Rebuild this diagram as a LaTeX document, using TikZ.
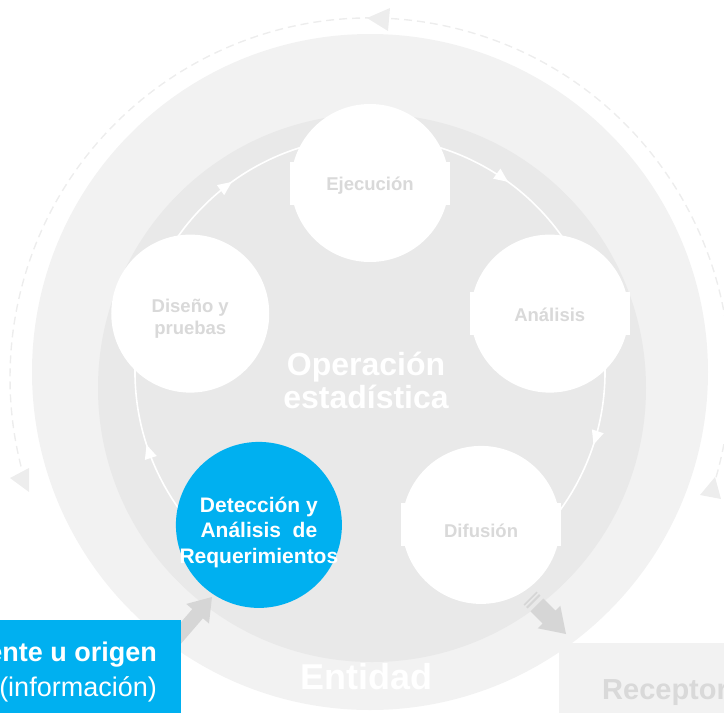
\documentclass[tikz,border=0pt]{standalone}
\usepackage{fontspec}
\setmainfont{Liberation Sans}
\usetikzlibrary{arrows.meta, calc, decorations.markings}
\definecolor{anillo}{HTML}{F2F2F2}
\definecolor{disco}{HTML}{E9E9E9}
\definecolor{azulfuente}{HTML}{00B0F0}
\definecolor{textogris}{HTML}{D9D9D9}
\definecolor{flechagris}{HTML}{D6D6D6}
\definecolor{trazogris}{HTML}{EDEDED}

\tikzset{
  etapa/.style={circle, fill=white, minimum size=158pt, inner sep=0pt},
  textoetapa/.style={inner sep=0pt, align=center, text=textogris,
    font=\bfseries\fontsize{18.5}{21.5}\selectfont},
  ciclo/.style={white, line width=1.6pt, postaction={decorate},
    decoration={markings, mark=at position 0.5 with {\arrow{Triangle[length=14pt,width=12pt]}}}},
  rotulo/.style={inner sep=0pt, font=\bfseries\fontsize{#1}{#1}\selectfont},
}

\begin{document}
\begin{tikzpicture}[x=1pt, y=-1pt]
  \useasboundingbox (0,0) rectangle (724,713);
  \clip (0,0) rectangle (724,713);
  \coordinate (centro) at (370,372);

  % anillo exterior (entidad)
  \fill[anillo] (centro) circle (338);

  % flecha discontinua exterior
  \draw[trazogris, line width=1.4pt, dash pattern=on 8pt off 5pt]
    ($(370,378)+(16:360)$) arc[start angle=16, delta angle=-210.5, radius=360];
  \fill[trazogris] (700,495) -- (715,477) -- (721,499) -- cycle;
  \fill[trazogris] (367,18) -- (390,8) -- (388,31) -- cycle;
  \fill[trazogris] (10,478) -- (29,468) -- (29,492) -- cycle;

  % disco interior (operacion)
  \fill[disco] (372,388) circle (274);
  \node[rotulo=32, white, align=center, font=\bfseries\fontsize{32}{33}\selectfont] (operacion) at (366,380) {Operación\\estadística};

  % ciclo entre etapas
  \foreach \a in {126,198,270,342}
    \draw[ciclo] ($(centro)+(\a:235)$) arc[start angle=\a, delta angle=72, radius=235];

  % bandas de texto de las etapas
  \foreach \a in {-90,-18,54}
    \fill[white] ($(centro)+(\a:189)+(-80,-21.5)$) rectangle +(160,43);

  % etapas
  \node[etapa] (ejec) at ($(centro)+(-90:189)$) {};
  \node[etapa] (anal) at ($(centro)+(-18:189)$) {};
  \node[etapa] (difu) at ($(centro)+(54:189)$) {};
  \node[etapa] (dise) at ($(centro)+(198:189)$) {};
  \node[etapa, fill=azulfuente, minimum size=166pt] (dete) at ($(centro)+(126:189)$) {};
  \node[textoetapa] (ejec-txt) at ($(ejec)+(0,3)$) {Ejecución};
  \node[textoetapa] (anal-txt) at ($(anal)+(0,1.5)$) {Análisis};
  \node[textoetapa] (difu-txt) at ($(difu)+(0,5.5)$) {Difusión};
  \node[textoetapa] (dise-txt) at ($(dise)+(0,5)$) {Diseño y\\pruebas};
  \node[textoetapa, text=white, font=\bfseries\fontsize{21}{25.5}\selectfont]
    (dete-txt) at ($(dete)+(0,7.5)$) {Detección y\\Análisis\ \ de\\Requerimientos};

  % flechas grises de entrada y salida
  \fill[flechagris] (212,597) -- (209,623.5) -- (202.9,618.3) -- (171.6,654.6)
    -- (161,645.4) -- (192.3,609.1) -- (186.3,603.9) -- cycle;
  \fill[flechagris] (566,634) -- (537.7,628.3) -- (542.6,623.4) -- (530.5,611.3)
    -- (543.3,598.5) -- (555.4,610.6) -- (560.3,605.7) -- cycle;
  \fill[flechagris] (527.6,608.4) -- (540.4,595.6) -- (538.9,594.1) -- (526.1,606.9) -- cycle;
  \fill[flechagris] (524.8,605.6) -- (537.6,592.8) -- (536.5,591.7) -- (523.7,604.5) -- cycle;

  \node[rotulo=36, white, anchor=base] (entidad) at (366,689) {Entidad};

  % receptor
  \fill[anillo] (559,643) rectangle (724,713);
  \node[rotulo=29, text=textogris, anchor=base west] (receptor) at (602,699) {Receptor};

  % fuente u origen
  \fill[azulfuente] (0,620) rectangle (181,713);
  \node[inner sep=0pt, white, anchor=east, align=right, font=\fontsize{27}{35}\selectfont]
    (fuente) at (157,672.5) {\textbf{Fuente u origen}\\(información)};
\end{tikzpicture}
\end{document}
